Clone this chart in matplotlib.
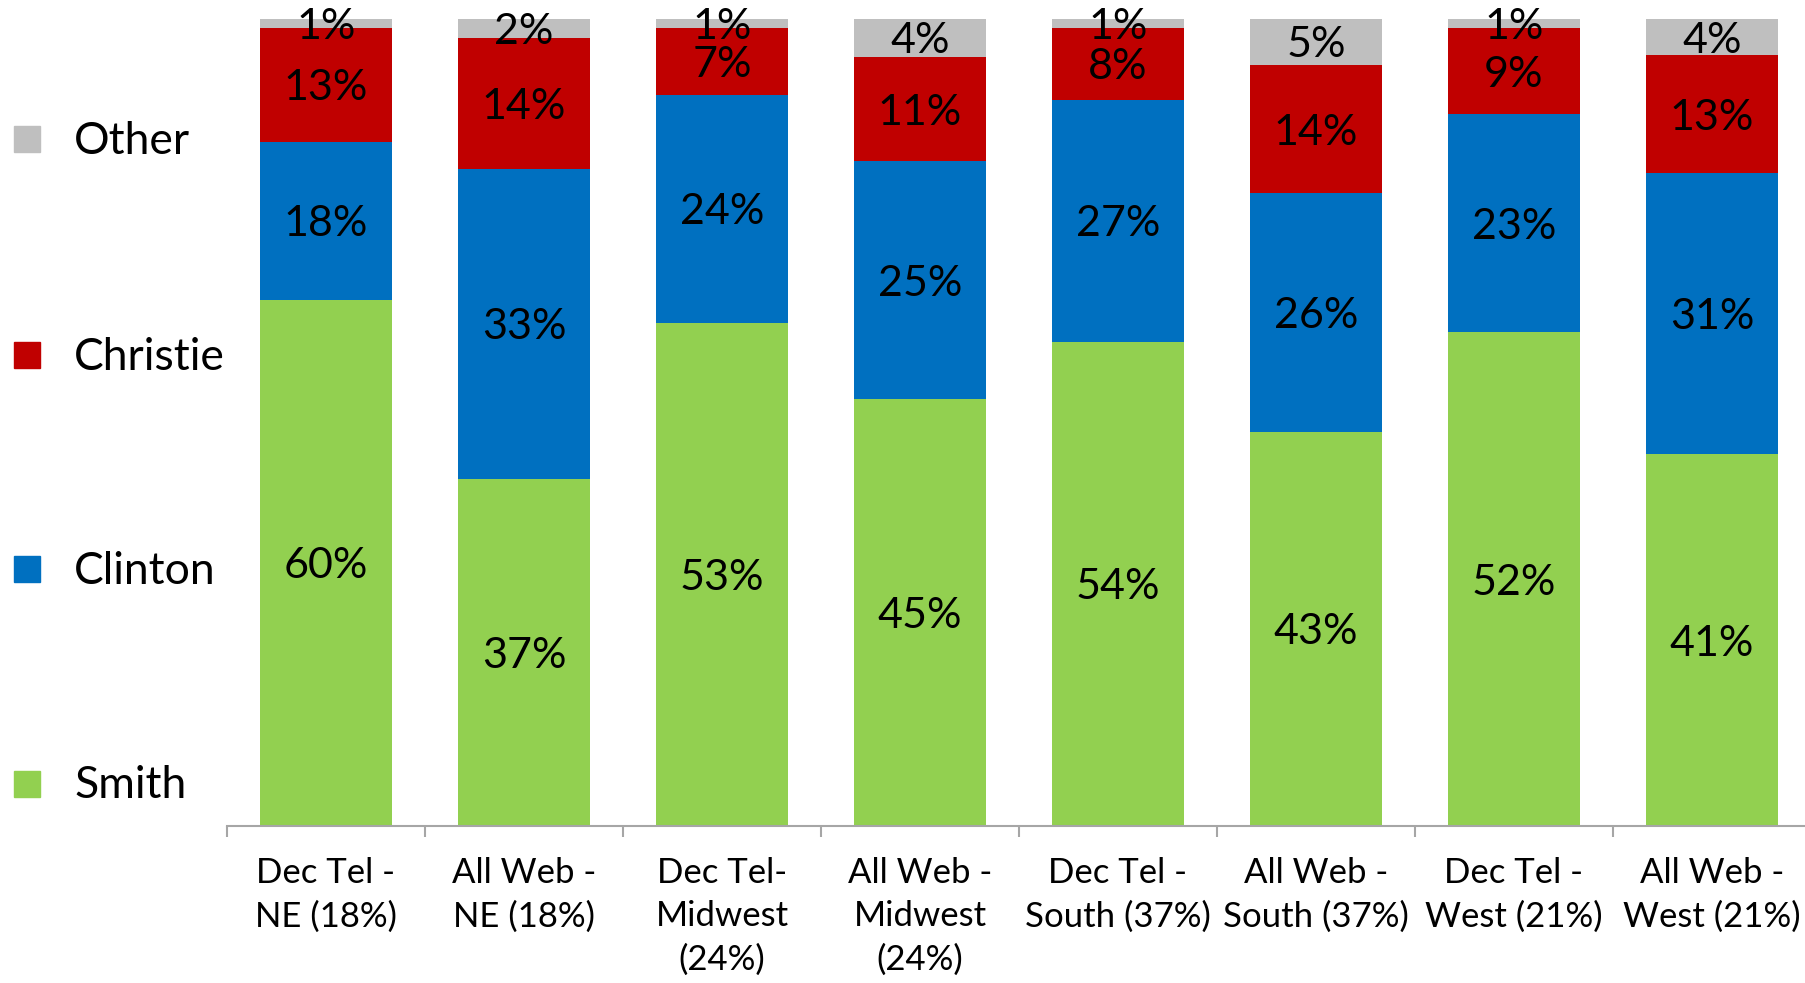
import numpy as np
import matplotlib
matplotlib.use("Agg")
import matplotlib.pyplot as plt
from matplotlib.patches import Rectangle

plt.rcParams['font.family'] = ['Lato', 'DejaVu Sans']

categories = ["Dec Tel -\nNE (18%)", "All Web -\nNE (18%)", "Dec Tel-\nMidwest\n(24%)",
              "All Web -\nMidwest\n(24%)", "Dec Tel -\nSouth (37%)", "All Web -\nSouth (37%)",
              "Dec Tel -\nWest (21%)", "All Web -\nWest (21%)"]
smith = [60, 37, 53, 45, 54, 43, 52, 41]
clinton = [18, 33, 24, 25, 27, 26, 23, 31]
christie = [13, 14, 7, 11, 8, 14, 9, 13]
other = [1, 2, 1, 4, 1, 5, 1, 4]

series = [("Smith", smith, "#92D050"), ("Clinton", clinton, "#0070C0"),
          ("Christie", christie, "#C00000"), ("Other", other, "#BFBFBF")]

W, H = 1806, 983
fig = plt.figure(figsize=(W / 100, H / 100), dpi=100)
ax = fig.add_axes([227 / W, 157 / H, 1584 / W, 807 / H])

x = np.arange(len(categories)) + 0.5
totals = np.sum([smith, clinton, christie, other], axis=0)
bottom = np.zeros(len(categories))
for name, vals, color in series:
    share = np.array(vals) / totals * 100
    ax.bar(x, share, width=0.667, bottom=bottom, color=color, label=name)
    for xi, b, s, v in zip(x, bottom, share, vals):
        ax.annotate(f"{v}%", (xi, b + s / 2), xytext=(0, -2.5), textcoords="offset points",
                    ha="center", va="center", fontsize=31, color="black")
    bottom += share

ax.set_xlim(0, len(categories))
ax.set_ylim(0, 100)
ax.set_yticks([])
for side in ["left", "right", "top"]:
    ax.spines[side].set_visible(False)
ax.spines["bottom"].set_color("#A6A6A6")
ax.spines["bottom"].set_linewidth(1.5)

ax.set_xticks(np.arange(len(categories) + 1))
ax.set_xticklabels([])
ax.tick_params(axis="x", which="major", length=8, width=1.5, color="#A6A6A6", direction="out")
ax.set_xticks(x, minor=True)
ax.set_xticklabels(categories, minor=True, fontsize=25, linespacing=1.45)
ax.tick_params(axis="x", which="minor", length=0, pad=22)

# legend on the left
legend_y = {"Other": 139, "Christie": 355, "Clinton": 569, "Smith": 784}
for name, vals, color in series:
    yc = legend_y[name]
    fig.add_artist(Rectangle((14 / W, (H - yc - 13) / H), 26 / W, 26 / H,
                             transform=fig.transFigure, color=color))
    fig.text(74 / W, (H - yc - 2) / H, name, fontsize=32, va="center", ha="left")

fig.savefig("out.png", dpi=100)
